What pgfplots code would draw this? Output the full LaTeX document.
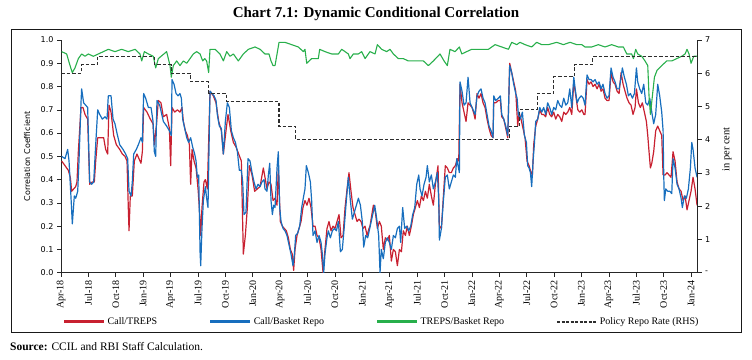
\documentclass[border=0pt]{standalone}
\usepackage{fontspec}
\setmainfont{Liberation Serif}
\newfontfamily\tickfont{DejaVu Sans}
\usepackage{pgfplots}
\pgfplotsset{compat=1.18}
\definecolor{cred}{RGB}{200,32,48}
\definecolor{cblue}{RGB}{23,110,190}
\definecolor{cgreen}{RGB}{40,175,75}
\definecolor{cdash}{RGB}{45,45,45}
\begin{document}
\begin{tikzpicture}
\path[use as bounding box] (0pt,0pt) rectangle (752pt,359pt);
\draw[line width=0.8pt, black!90] (11pt,27pt) rectangle (741pt,330pt);
\node[font=\bfseries\fontsize{15}{18}\selectfont] at (376pt,345pt) {Chart 7.1: Dynamic Conditional Correlation};
\node[anchor=west, inner sep=0pt, font=\fontsize{11.5}{13}\selectfont] at (10pt,12pt) {\textbf{Source:} CCIL and RBI Staff Calculation.};
\begin{axis}[
  at={(61pt,86.3pt)}, anchor=south west,
  scale only axis, width=636.7pt, height=232.7pt,
  xmin=0, xmax=69.73, ymin=0, ymax=1,
  axis x line*=bottom, axis y line*=left,
  axis line style={line width=0.7pt, black!85},
  tick style={line width=0.6pt, black!85},
  major tick length=4pt, tick align=outside,
  xtick={0,3,...,69},
  xticklabels={Apr-18,Jul-18,Oct-18,Jan-19,Apr-19,Jul-19,Oct-19,Jan-20,Apr-20,Jul-20,Oct-20,Jan-21,Apr-21,Jul-21,Oct-21,Jan-22,Apr-22,Jul-22,Oct-22,Jan-23,Apr-23,Jul-23,Oct-23,Jan-24},
  xticklabel style={font=\fontsize{10}{11}\selectfont, rotate=90, anchor=east},
  ytick={0,0.1,0.2,0.3,0.4,0.5,0.6,0.7,0.8,0.9,1},
  yticklabel style={font=\tickfont\fontsize{8}{9}\selectfont, /pgf/number format/fixed, /pgf/number format/fixed zerofill, /pgf/number format/precision=1, /pgf/number format/assume math mode=true},
  ylabel={Correlation Coefficient},
  every axis y label/.style={at={(axis description cs:-0.053,0.5)}, rotate=90, anchor=center, font=\tickfont\fontsize{8}{9}\selectfont},
  legend style={at={(axis description cs:0.003,-0.2106)}, anchor=west, draw=none, fill=none, inner sep=0pt, legend columns=4, font=\fontsize{10}{12}\selectfont, /tikz/every even column/.append style={column sep=50pt}},
  legend cell align=left,
  legend image code/.code={\draw[#1, line width=2.6pt] (0pt,0pt) -- (40pt,0pt);},
  line join=round,
]
\addplot[cred, line width=1.2pt] coordinates {
(0.07,0.48) (0.44,0.46) (0.80,0.44) (1.02,0.41) (1.17,0.35) (1.39,0.36) (1.61,0.37) (1.75,0.39) (1.90,0.52) (2.19,0.71) (2.41,0.71) (2.63,0.68) (2.92,0.66) (3.14,0.38) (3.43,0.39) (3.65,0.39) (3.80,0.48) (4.02,0.58) (4.31,0.58) (4.67,0.58) (4.89,0.53) (5.11,0.51) (5.26,0.72) (5.48,0.69) (5.77,0.59) (6.06,0.55) (6.43,0.53) (6.72,0.51) (7.01,0.50) (7.23,0.48) (7.37,0.28) (7.45,0.18) (7.59,0.33) (7.81,0.33) (8.03,0.48) (8.32,0.51) (8.54,0.49) (8.76,0.47) (8.91,0.52) (9.05,0.71) (9.42,0.69) (9.78,0.66) (10.08,0.64) (10.22,0.55) (10.44,0.63) (10.66,0.74) (10.95,0.73)
(11.21,0.67) (11.57,0.68) (11.87,0.62) (12.01,0.46) (12.16,0.71) (12.45,0.69) (12.75,0.70) (13.03,0.69) (13.25,0.71) (13.40,0.65) (13.62,0.61) (13.84,0.59) (14.06,0.55) (14.20,0.38) (14.35,0.53) (14.57,0.48) (14.79,0.45) (15.01,0.36) (15.15,0.28) (15.30,0.16) (15.44,0.28) (15.66,0.39) (15.81,0.40) (16.03,0.36) (16.32,0.78) (16.68,0.76) (16.98,0.73) (17.27,0.65) (17.56,0.61) (17.78,0.51) (18.07,0.61) (18.29,0.68) (18.59,0.61) (18.88,0.56) (19.17,0.54) (19.46,0.51) (19.75,0.48) (19.97,0.08) (20.19,0.16) (20.41,0.28) (20.63,0.46) (20.92,0.42) (21.21,0.35) (21.50,0.36) (21.80,0.37) (22.16,0.45)
(22.34,0.41) (22.56,0.36) (22.78,0.39) (23.00,0.38) (23.22,0.31) (23.44,0.32) (23.66,0.29) (23.80,0.45) (24.02,0.22) (24.24,0.20) (24.46,0.19) (24.68,0.18) (24.90,0.15) (25.12,0.10) (25.33,0.08) (25.48,0.01) (25.63,0.10) (25.85,0.16) (26.07,0.19) (26.29,0.22) (26.50,0.28) (26.72,0.31) (26.94,0.29) (27.16,0.32) (27.38,0.28) (27.60,0.20) (27.82,0.20) (28.04,0.16) (28.26,0.15) (28.48,0.10) (28.70,0.00) (28.91,0.10) (29.13,0.19) (29.35,0.22) (29.57,0.18) (29.79,0.20) (30.01,0.19) (30.23,0.22) (30.45,0.25) (30.67,0.15) (30.89,0.16) (31.11,0.28) (31.33,0.36) (31.54,0.43) (31.76,0.35) (31.98,0.28) (32.20,0.25) (32.42,0.22) (32.64,0.23) (32.86,0.22) (33.08,0.19) (33.30,0.20) (33.52,0.16) (33.73,0.19)
(33.84,0.20) (34.21,0.29) (34.43,0.26) (34.65,0.19) (34.87,0.22) (35.08,0.20) (35.30,0.10) (35.52,0.15) (35.74,0.14) (35.96,0.16) (36.18,0.05) (36.40,0.10) (36.62,0.09) (36.84,0.03) (37.06,0.10) (37.28,0.09) (37.49,0.18) (37.72,0.16) (37.93,0.20) (38.15,0.16) (38.37,0.20) (38.59,0.25) (38.81,0.28) (39.03,0.31) (39.25,0.28) (39.47,0.33) (39.69,0.31) (39.91,0.35) (40.12,0.32) (40.34,0.38) (40.56,0.33) (40.78,0.29) (41.00,0.38) (41.29,0.46) (41.44,0.20) (41.66,0.19) (41.88,0.33) (42.09,0.46) (42.31,0.45) (42.53,0.43) (42.75,0.43) (42.97,0.45) (43.19,0.46) (43.41,0.49) (43.56,0.48) (43.70,0.81) (43.92,0.73) (44.14,0.69) (44.36,0.65) (44.58,0.73) (44.80,0.72) (45.02,0.71) (45.24,0.68)
(45.35,0.66) (45.56,0.77) (45.78,0.75) (46.00,0.77) (46.22,0.73) (46.44,0.71) (46.66,0.66) (46.88,0.62) (47.10,0.59) (47.32,0.58) (47.39,0.73) (47.61,0.73) (47.90,0.74) (48.12,0.74) (48.27,0.67) (48.49,0.66) (48.71,0.62) (48.93,0.58) (49.14,0.90) (49.36,0.86) (49.58,0.82) (49.80,0.78) (50.02,0.63) (50.16,0.69) (50.38,0.66) (50.60,0.62) (50.82,0.58) (51.04,0.48) (51.26,0.46) (51.48,0.43) (51.63,0.42) (51.77,0.55) (51.99,0.63) (52.21,0.66) (52.43,0.70) (52.65,0.68) (52.86,0.68) (53.08,0.67) (53.30,0.71) (53.52,0.68) (53.74,0.67) (53.96,0.69) (54.18,0.66) (54.40,0.68) (54.62,0.67) (54.84,0.65) (55.06,0.69) (55.28,0.68) (55.50,0.69) (55.72,0.71) (55.94,0.68) (56.16,0.82) (56.38,0.76) (56.60,0.70) (56.82,0.69) (57.04,0.70) (57.26,0.68)
(57.39,0.68) (57.61,0.83) (57.83,0.81) (58.05,0.82) (58.27,0.80) (58.49,0.81) (58.71,0.79) (58.93,0.81) (59.15,0.78) (59.36,0.79) (59.58,0.75) (59.80,0.74) (60.02,0.74) (60.24,0.86) (60.46,0.82) (60.68,0.81) (60.90,0.78) (61.12,0.77) (61.34,0.86) (61.56,0.81) (61.77,0.78) (61.99,0.75) (62.21,0.73) (62.43,0.72) (62.65,0.68) (62.87,0.71) (63.02,0.79) (63.24,0.73) (63.45,0.71) (63.67,0.73) (63.89,0.69) (64.11,0.65) (64.26,0.59) (64.40,0.52) (64.55,0.45) (64.70,0.47) (64.91,0.52) (65.13,0.61) (65.35,0.63) (65.57,0.61) (65.79,0.59) (65.94,0.42) (66.16,0.42) (66.37,0.43) (66.59,0.42) (66.81,0.41) (67.03,0.52) (67.25,0.48) (67.47,0.39) (67.69,0.36) (67.91,0.35) (68.13,0.31) (68.35,0.33) (68.56,0.27) (68.78,0.31) (69.00,0.35) (69.22,0.41) (69.44,0.36) (69.66,0.29)
};
\addlegendentry{Call/TREPS}
\addplot[cblue, line width=1.2pt] coordinates {
(0.07,0.50) (0.44,0.49) (0.73,0.53) (0.88,0.48) (1.10,0.32) (1.24,0.21) (1.46,0.33) (1.61,0.32) (1.83,0.35) (1.97,0.48) (2.19,0.73) (2.26,0.79) (2.48,0.73) (2.70,0.72) (2.92,0.71) (3.14,0.39) (3.36,0.38) (3.58,0.39) (3.80,0.55) (4.02,0.70) (4.24,0.68) (4.53,0.66) (4.82,0.67) (5.04,0.66) (5.18,0.76) (5.48,0.76) (5.70,0.66) (5.91,0.64) (6.13,0.60) (6.43,0.55) (6.79,0.53) (7.08,0.51) (7.30,0.49) (7.45,0.35) (7.67,0.33) (7.81,0.39) (7.96,0.51) (8.25,0.53) (8.47,0.55) (8.76,0.58) (8.91,0.56) (9.05,0.77) (9.27,0.75) (9.57,0.71) (9.86,0.71) (10.08,0.65) (10.22,0.52) (10.37,0.50) (10.51,0.74) (10.81,0.72)
(11.21,0.65) (11.57,0.63) (11.87,0.61) (12.08,0.59) (12.16,0.83) (12.38,0.81) (12.60,0.77) (12.82,0.76) (13.03,0.77) (13.18,0.75) (13.33,0.66) (13.55,0.62) (13.77,0.58) (13.98,0.56) (14.20,0.58) (14.42,0.54) (14.64,0.51) (14.79,0.48) (14.93,0.41) (15.08,0.42) (15.23,0.09) (15.30,0.03) (15.44,0.19) (15.59,0.31) (15.81,0.37) (15.95,0.32) (16.10,0.28) (16.32,0.78) (16.54,0.77) (16.76,0.76) (16.98,0.74) (17.12,0.68) (17.34,0.63) (17.56,0.62) (17.78,0.51) (18.00,0.65) (18.22,0.73) (18.44,0.71) (18.66,0.61) (18.88,0.58) (19.10,0.56) (19.32,0.52) (19.53,0.44) (19.75,0.44) (19.90,0.39) (20.04,0.25) (20.26,0.26) (20.48,0.49) (20.70,0.48) (20.92,0.43) (21.14,0.39) (21.36,0.36) (21.58,0.38) (21.80,0.37) (22.01,0.39) (22.24,0.40)
(22.34,0.36) (22.56,0.35) (22.71,0.42) (22.86,0.47) (23.00,0.31) (23.15,0.25) (23.29,0.29) (23.44,0.28) (23.66,0.45) (23.80,0.52) (23.95,0.28) (24.10,0.22) (24.32,0.19) (24.53,0.18) (24.75,0.16) (24.97,0.12) (25.19,0.08) (25.41,0.03) (25.56,0.08) (25.70,0.16) (25.92,0.17) (26.14,0.20) (26.36,0.28) (26.58,0.33) (26.72,0.36) (26.87,0.46) (27.09,0.43) (27.31,0.39) (27.45,0.31) (27.60,0.16) (27.82,0.18) (28.04,0.13) (28.26,0.16) (28.48,0.13) (28.62,0.08) (28.77,0.00) (28.91,0.08) (29.13,0.15) (29.28,0.18) (29.50,0.15) (29.72,0.18) (29.94,0.19) (30.16,0.18) (30.38,0.22) (30.60,0.09) (30.81,0.10) (31.03,0.20) (31.25,0.31) (31.47,0.41) (31.69,0.31) (31.91,0.23) (32.13,0.26) (32.35,0.29) (32.57,0.32) (32.79,0.29) (33.00,0.22) (33.15,0.11) (33.37,0.16) (33.59,0.15) (33.81,0.19)
(34.14,0.25) (34.36,0.29) (34.58,0.23) (34.79,0.16) (34.94,0.00) (35.08,0.10) (35.30,0.06) (35.52,0.13) (35.74,0.15) (35.96,0.13) (36.18,0.10) (36.40,0.16) (36.62,0.15) (36.84,0.19) (37.06,0.20) (37.20,0.13) (37.42,0.28) (37.64,0.19) (37.86,0.20) (38.08,0.18) (38.30,0.20) (38.52,0.25) (38.74,0.28) (38.96,0.38) (39.18,0.42) (39.32,0.36) (39.54,0.33) (39.76,0.38) (39.98,0.41) (40.12,0.46) (40.34,0.39) (40.56,0.42) (40.78,0.36) (41.00,0.39) (41.22,0.43) (41.37,0.31) (41.44,0.14) (41.66,0.19) (41.88,0.31) (42.09,0.41) (42.31,0.42) (42.53,0.36) (42.75,0.39) (42.97,0.42) (43.19,0.41) (43.34,0.49) (43.48,0.46) (43.63,0.43) (43.70,0.82) (43.92,0.78) (44.14,0.72) (44.36,0.73) (44.58,0.84) (44.80,0.73) (45.02,0.71) (45.24,0.69)
(45.35,0.68) (45.56,0.76) (45.78,0.78) (46.00,0.79) (46.22,0.75) (46.44,0.73) (46.66,0.68) (46.88,0.63) (47.10,0.61) (47.32,0.58) (47.39,0.76) (47.61,0.74) (47.90,0.75) (48.12,0.76) (48.27,0.68) (48.49,0.66) (48.71,0.63) (48.93,0.59) (49.14,0.89) (49.36,0.86) (49.58,0.81) (49.80,0.77) (49.95,0.75) (50.09,0.68) (50.31,0.66) (50.53,0.69) (50.75,0.59) (50.97,0.56) (51.11,0.46) (51.26,0.45) (51.41,0.43) (51.55,0.37) (51.70,0.48) (51.84,0.55) (51.99,0.65) (52.21,0.66) (52.43,0.71) (52.65,0.69) (52.86,0.71) (53.08,0.68) (53.30,0.73) (53.52,0.71) (53.74,0.68) (53.96,0.71) (54.18,0.70) (54.40,0.74) (54.62,0.72) (54.84,0.71) (55.06,0.75) (55.28,0.72) (55.50,0.73) (55.72,0.79) (55.94,0.71) (56.16,0.84) (56.31,0.79) (56.53,0.73) (56.75,0.75) (56.97,0.76) (57.19,0.75)
(57.39,0.72) (57.61,0.85) (57.83,0.83) (58.05,0.83) (58.27,0.82) (58.49,0.83) (58.71,0.81) (58.93,0.82) (59.15,0.79) (59.36,0.81) (59.58,0.77) (59.80,0.75) (60.02,0.76) (60.24,0.88) (60.46,0.84) (60.68,0.82) (60.90,0.79) (61.12,0.79) (61.34,0.84) (61.48,0.88) (61.70,0.84) (61.92,0.81) (62.14,0.76) (62.36,0.77) (62.58,0.75) (62.80,0.77) (63.02,0.88) (63.16,0.82) (63.38,0.79) (63.60,0.77) (63.82,0.81) (64.04,0.73) (64.26,0.72) (64.48,0.75) (64.70,0.69) (64.91,0.64) (65.13,0.68) (65.35,0.81) (65.57,0.76) (65.79,0.69) (65.94,0.61) (66.01,0.42) (66.08,0.31) (66.23,0.36) (66.45,0.35) (66.67,0.35) (66.89,0.34) (67.03,0.49) (67.25,0.45) (67.47,0.38) (67.69,0.36) (67.91,0.32) (68.05,0.28) (68.27,0.33) (68.49,0.32) (68.71,0.36) (68.93,0.45) (69.08,0.56) (69.22,0.53) (69.44,0.45) (69.66,0.41)
};
\addlegendentry{Call/Basket Repo}
\addplot[cgreen, line width=1.1pt] coordinates {
(0.07,0.95) (0.62,0.94) (0.99,0.89) (1.24,0.86) (1.53,0.88) (1.90,0.92) (2.26,0.94) (2.63,0.93) (2.99,0.94) (3.54,0.93) (4.09,0.94) (4.64,0.95) (5.18,0.96) (5.91,0.95) (6.64,0.96) (7.37,0.95) (8.11,0.96) (8.65,0.94) (8.84,0.91) (9.13,0.95) (9.57,0.94) (10.11,0.93) (10.37,0.88) (10.66,0.92)
(11.57,0.95) (11.94,0.89) (12.08,0.84) (12.30,0.89) (12.67,0.91) (13.03,0.89) (13.40,0.91) (13.77,0.90) (14.13,0.92) (14.49,0.94) (14.86,0.95) (15.23,0.94) (15.52,0.91) (15.74,0.92) (15.95,0.91) (16.17,0.86) (16.32,0.96) (16.87,0.96) (17.41,0.94) (17.78,0.91) (18.15,0.95) (18.51,0.93) (18.88,0.94) (19.42,0.91) (19.97,0.94) (20.52,0.96) (21.25,0.97) (21.80,0.96)
(22.34,0.94) (22.78,0.94) (23.00,0.91) (23.22,0.89) (23.44,0.89) (23.66,0.94) (23.88,0.99) (24.53,0.99) (25.26,0.98) (25.99,0.97) (26.54,0.95) (26.72,0.96) (26.91,0.90) (27.45,0.92) (28.18,0.92) (28.33,0.96) (28.91,0.95) (29.64,0.94) (30.38,0.94) (30.74,0.96) (31.11,0.95) (31.47,0.94) (31.65,0.92) (32.02,0.94) (32.57,0.94) (32.93,0.95) (33.30,0.92) (33.84,0.95)
(34.39,0.94) (34.65,0.98) (35.12,0.96) (35.67,0.95) (36.03,0.96) (36.40,0.94) (36.95,0.92) (37.49,0.92) (38.04,0.91) (38.59,0.91) (39.14,0.91) (39.69,0.91) (40.23,0.89) (40.78,0.91) (41.51,0.94) (41.95,0.91) (42.31,0.89) (42.60,0.96) (43.15,0.95) (43.63,0.97) (43.89,0.94) (44.43,0.95) (44.98,0.96)
(45.35,0.96) (46.08,0.96) (46.81,0.96) (47.54,0.98) (48.27,0.97) (49.00,0.96) (49.36,0.99) (49.91,0.98) (50.27,0.99) (50.82,0.98) (51.55,0.97) (52.10,0.99) (52.65,0.98) (53.38,0.98) (54.29,0.99) (55.02,0.98) (55.75,0.99) (56.49,0.98) (57.04,0.98)
(57.39,0.97) (58.12,0.97) (58.85,0.98) (59.58,0.97) (60.31,0.98) (61.04,0.97) (61.59,0.97) (61.96,0.94) (62.50,0.94) (62.69,0.92) (62.94,0.96) (63.16,0.94) (63.60,0.93) (63.96,0.91) (64.26,0.89) (64.40,0.76) (64.55,0.68) (64.77,0.76) (64.99,0.84) (65.28,0.87) (65.79,0.89) (66.34,0.91) (66.89,0.91) (67.43,0.92) (67.98,0.93) (68.35,0.94) (68.56,0.96) (68.78,0.94) (69.00,0.90) (69.30,0.93) (69.66,0.93)
};
\addlegendentry{TREPS/Basket Repo}
\addlegendimage{legend image code/.code={\draw[cdash, line width=1.6pt, dash pattern=on 3pt off 1.5pt] (0pt,0pt) -- (40pt,0pt);}}
\addlegendentry{Policy Repo Rate (RHS)}
\end{axis}
\begin{axis}[
  at={(61pt,86.3pt)}, anchor=south west,
  scale only axis, width=636.7pt, height=232.7pt,
  xmin=0, xmax=69.73, ymin=0, ymax=7,
  axis x line=none, axis y line*=right,
  axis line style={line width=0.7pt, black!85},
  tick style={line width=0.6pt, black!85},
  major tick length=4pt, tick align=outside,
  ytick={0,1,2,3,4,5,6,7},
  yticklabels={-,1,2,3,4,5,6,7},
  yticklabel style={font=\tickfont\fontsize{8}{9}\selectfont},
  ylabel={in per cent},
  every axis y label/.style={at={(axis description cs:1.046,0.53)}, rotate=90, anchor=center, font=\fontsize{10.5}{12}\selectfont},
]
\addplot[const plot, cdash, line width=1.1pt, dash pattern=on 3.5pt off 2pt] coordinates {
(0,6.0) (2.2,6.25) (4.0,6.5) (10.2,6.25) (12.1,6.0) (14.2,5.75) (16.2,5.40) (18.1,5.15) (23.87,4.40) (25.7,4.00) (49.1,4.40) (50.25,4.90) (52.15,5.40) (53.97,5.90) (56.2,6.25) (58.25,6.50) (69.73,6.50)
};
\end{axis}
\end{tikzpicture}
\end{document}
